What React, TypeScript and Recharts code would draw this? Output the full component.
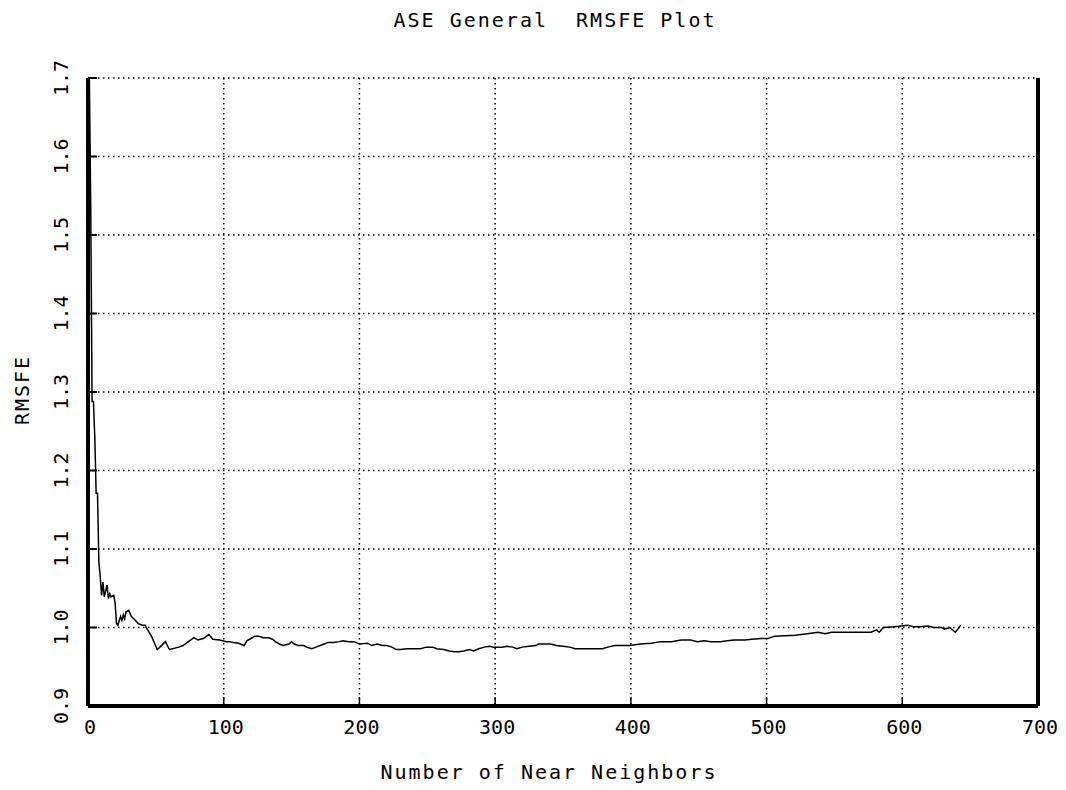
import React from "react";
import { LineChart, Line, XAxis, YAxis, CartesianGrid } from "recharts";

const NEIGHBORS = [
  1, 2, 3, 4, 5, 6, 7, 8, 9, 10,
  11, 12, 14, 15, 16, 17, 19, 20, 21, 22,
  24, 25, 26, 27, 28, 30, 32, 35, 37, 40,
  42, 44, 47, 49, 51, 53, 57, 60, 67, 70,
  74, 78, 81, 85, 89, 92, 97, 102, 104, 107,
  111, 115, 117, 120, 123, 126, 129, 133, 136, 138,
  141, 144, 148, 150, 152, 155, 159, 161, 165, 168,
  171, 174, 177, 181, 185, 188, 192, 196, 200, 206,
  209, 213, 217, 220, 224, 227, 230, 235, 240, 245,
  249, 254, 257, 262, 266, 270, 273, 277, 281, 284,
  288, 292, 296, 299, 305, 309, 313, 316, 320, 325,
  330, 332, 337, 341, 345, 350, 355, 359, 364, 369,
  374, 379, 383, 388, 391, 395, 399, 407, 415, 422,
  430, 437, 444, 449, 454, 459, 466, 471, 476, 484,
  489, 496, 501, 506, 521, 530, 538, 543, 548, 560,
  577, 581, 583, 586, 594, 599, 604, 608, 613, 619,
  623, 629, 631, 635, 639, 641, 643,
];

const RMSFE = [
  1.7, 1.538, 1.288, 1.288, 1.243, 1.171, 1.171, 1.084, 1.065, 1.041,
  1.058, 1.039, 1.054, 1.037, 1.043, 1.039, 1.041, 1.031, 1.005, 1.003,
  1.014, 1.009, 1.016, 1.011, 1.02, 1.022, 1.014, 1.009, 1.005, 1.003,
  1.003, 0.997, 0.988, 0.98, 0.972, 0.975, 0.982, 0.972, 0.975, 0.977,
  0.982, 0.987, 0.984, 0.986, 0.991, 0.985, 0.984, 0.982, 0.982, 0.981,
  0.98, 0.977, 0.983, 0.986, 0.989, 0.989, 0.987, 0.987, 0.985, 0.982,
  0.979, 0.977, 0.979, 0.982, 0.979, 0.977, 0.977, 0.975, 0.973, 0.975,
  0.977, 0.979, 0.981, 0.981, 0.982, 0.983, 0.982, 0.982, 0.979, 0.98,
  0.977, 0.979, 0.977, 0.977, 0.975, 0.972, 0.972, 0.973, 0.973, 0.973,
  0.975, 0.975, 0.973, 0.972, 0.97, 0.969, 0.969, 0.97, 0.972, 0.97,
  0.973, 0.975, 0.976, 0.975, 0.975, 0.976, 0.975, 0.973, 0.975, 0.976,
  0.977, 0.979, 0.979, 0.979, 0.977, 0.976, 0.975, 0.973, 0.973, 0.973,
  0.973, 0.973, 0.975, 0.977, 0.977, 0.977, 0.977, 0.979, 0.98, 0.982,
  0.982, 0.984, 0.984, 0.982, 0.983, 0.982, 0.982, 0.983, 0.984, 0.984,
  0.985, 0.986, 0.986, 0.989, 0.99, 0.992, 0.994, 0.992, 0.994, 0.994,
  0.994, 0.997, 0.994, 1.0, 1.001, 1.002, 1.003, 1.001, 1.001, 1.002,
  1.0, 1.0, 0.998, 1.0, 0.994, 0.998, 1.003,
];

const X_TICKS = [0, 100, 200, 300, 400, 500, 600, 700];
const Y_TICKS = [0.9, 1.0, 1.1, 1.2, 1.3, 1.4, 1.5, 1.6, 1.7];

const W = 1066;
const H = 790;
const PLOT_L = 88;
const PLOT_R = 1038;
const PLOT_T = 78;
const PLOT_B = 706;
const TICK = 9;
const FONT = "'DejaVu Sans Mono', monospace";

const data = NEIGHBORS.map((k, i) => ({ k, rmsfe: RMSFE[i] }));

function LeftTick(props: any) {
  const { y, payload } = props;
  const tx = 68;
  return (
    <g>
      <line x1={PLOT_L} x2={PLOT_L + TICK} y1={y} y2={y} stroke="#000" strokeWidth={2} />
      <text
        x={tx}
        y={y}
        transform={`rotate(-90 ${tx} ${y})`}
        textAnchor="middle"
        fontFamily={FONT}
        fontSize={20}
        fill="#000"
      >
        {Number(payload.value).toFixed(1)}
      </text>
    </g>
  );
}

function RightTick(props: any) {
  const { y } = props;
  return <line x1={PLOT_R - TICK} x2={PLOT_R} y1={y} y2={y} stroke="#000" strokeWidth={2} />;
}

function BottomTick(props: any) {
  const { x, payload } = props;
  return (
    <g>
      <line x1={x} x2={x} y1={PLOT_B - TICK} y2={PLOT_B} stroke="#000" strokeWidth={1.5} />
      <text x={x + 2} y={734} textAnchor="middle" fontFamily={FONT} fontSize={20} fill="#000">
        {payload.value}
      </text>
    </g>
  );
}

function TopTick(props: any) {
  const { x } = props;
  return <line x1={x} x2={x} y1={PLOT_T} y2={PLOT_T + TICK} stroke="#000" strokeWidth={1.5} />;
}

export default function App() {
  return (
    <div style={{ position: "absolute", left: 0, top: 0, width: W, height: H, background: "#fff" }}>
      <div
        style={{
          position: "absolute",
          left: 0,
          width: W,
          top: 8,
          textAlign: "center",
          fontFamily: FONT,
          fontSize: 20,
          letterSpacing: 2,
          paddingLeft: 44,
          boxSizing: "border-box",
          whiteSpace: "pre",
        }}
      >
        {"ASE General  RMSFE Plot"}
      </div>
      <LineChart
        width={W}
        height={H}
        data={data}
        margin={{ top: PLOT_T, right: 0, bottom: 0, left: 0 }}
      >
        <CartesianGrid
          stroke="#000"
          strokeWidth={1.5}
          strokeDasharray="1.5 3.5"
          horizontalValues={Y_TICKS}
          verticalValues={X_TICKS}
        />
        <XAxis
          dataKey="k"
          type="number"
          domain={[0, 700]}
          ticks={X_TICKS}
          height={H - PLOT_B}
          axisLine={{ stroke: "#000", strokeWidth: 4 }}
          tickLine={false}
          tick={<BottomTick />}
          interval={0}
        />
        <XAxis
          xAxisId="top"
          orientation="top"
          dataKey="k"
          type="number"
          domain={[0, 700]}
          ticks={X_TICKS}
          height={0}
          axisLine={{ stroke: "#444", strokeWidth: 2 }}
          tickLine={false}
          tick={<TopTick />}
          interval={0}
        />
        <YAxis
          type="number"
          domain={[0.9, 1.7]}
          ticks={Y_TICKS}
          width={PLOT_L}
          axisLine={{ stroke: "#000", strokeWidth: 4 }}
          tickLine={false}
          tick={<LeftTick />}
          interval={0}
        />
        <YAxis
          yAxisId="right"
          orientation="right"
          type="number"
          domain={[0.9, 1.7]}
          ticks={Y_TICKS}
          width={W - PLOT_R}
          axisLine={{ stroke: "#000", strokeWidth: 4 }}
          tickLine={false}
          tick={<RightTick />}
          interval={0}
        />
        <Line
          type="linear"
          dataKey="rmsfe"
          stroke="#000"
          strokeWidth={1.5}
          dot={false}
          isAnimationActive={false}
        />
      </LineChart>
      <div
        style={{
          position: "absolute",
          left: 0,
          width: W,
          top: 760,
          textAlign: "center",
          fontFamily: FONT,
          fontSize: 20,
          letterSpacing: 2,
          paddingLeft: 32,
          boxSizing: "border-box",
        }}
      >
        Number of Near Neighbors
      </div>
      <div
        style={{
          position: "absolute",
          left: 22,
          top: 390,
          transform: "translate(-50%, -50%) rotate(-90deg)",
          fontFamily: FONT,
          fontSize: 20,
          letterSpacing: 2,
          whiteSpace: "nowrap",
        }}
      >
        RMSFE
      </div>
    </div>
  );
}
